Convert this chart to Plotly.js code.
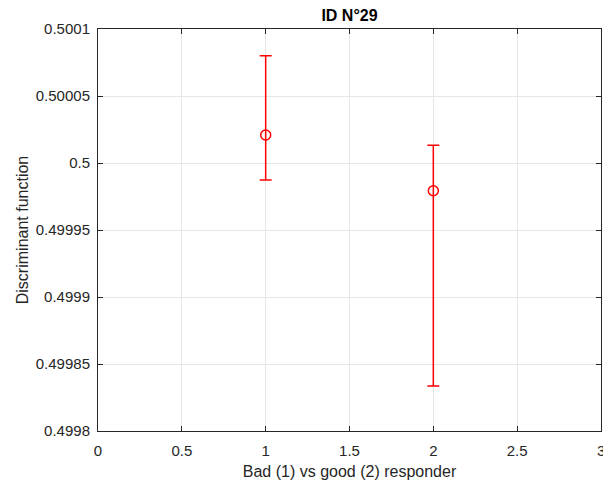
<!DOCTYPE html>
<html>
<head>
<meta charset="utf-8">
<script src="https://cdn.plot.ly/plotly-3.0.1.min.js"></script>
<style>html,body{margin:0;padding:0;background:#fff;}#chart{width:603px;height:483px;}</style>
</head>
<body>
<div id="chart"></div>
<script>
const responder = [1, 2];
const meanValue = [0.5000209, 0.4999793];
const errUpper = [0.0000592, 0.0000339];
const errLower = [0.0000336, 0.0001457];
const yTickVals = [0.4998, 0.49985, 0.4999, 0.49995, 0.5, 0.50005, 0.5001];
const yTickText = ['0.4998', '0.49985', '0.4999', '0.49995', '0.5', '0.50005', '0.5001'];
const xTickVals = [0, 0.5, 1, 1.5, 2, 2.5, 3];
const xTickText = ['0', '0.5', '1', '1.5', '2', '2.5', '3'];

const FONT = 'Liberation Sans, Arial, sans-serif';

const trace = {
  x: responder,
  y: meanValue,
  type: 'scatter',
  mode: 'markers',
  marker: {symbol: 'circle-open', size: 10, color: '#ff0000', line: {width: 1.5, color: '#ff0000'}},
  error_y: {type: 'data', symmetric: false, array: errUpper, arrayminus: errLower,
            color: '#ff0000', thickness: 1.5, width: 6},
  hoverinfo: 'none'
};

const axisCommon = {
  showline: true, linecolor: '#262626', linewidth: 1, mirror: 'ticks',
  ticks: 'inside', ticklen: 5, tickcolor: '#262626', tickwidth: 1,
  showgrid: true, gridcolor: '#e6e6e6', gridwidth: 1, zeroline: false,
  tickfont: {family: FONT, size: 15, color: '#262626'}
};

const layout = {
  width: 603, height: 483,
  margin: {l: 98, r: 2, t: 29, b: 52},
  paper_bgcolor: '#ffffff', plot_bgcolor: '#ffffff',
  showlegend: false,
  title: {text: '<b>ID N°29</b>', xref: 'paper', x: 0.5, xanchor: 'center',
          yref: 'container', y: 0.969, yanchor: 'middle',
          font: {family: FONT, size: 16, color: '#000000'}},
  xaxis: Object.assign({}, axisCommon, {
    range: [0, 3], tickmode: 'array', tickvals: xTickVals, ticktext: xTickText,
    ticklabelstandoff: 6,
    title: {text: 'Bad (1) vs good (2) responder', standoff: 7,
            font: {family: FONT, size: 16, color: '#262626'}}
  }),
  yaxis: Object.assign({}, axisCommon, {
    range: [0.4998, 0.5001], tickmode: 'array', tickvals: yTickVals, ticktext: yTickText,
    ticklabelstandoff: 4,
    title: {text: 'Discriminant function', standoff: 3,
            font: {family: FONT, size: 16, color: '#262626'}}
  }),
  annotations: [{
    x: xTickVals[xTickVals.length - 1], xref: 'x', y: 0, yref: 'paper',
    text: xTickText[xTickText.length - 1], showarrow: false,
    xanchor: 'center', yanchor: 'top', yshift: -9,
    font: {family: FONT, size: 15, color: '#262626'}
  }]
};

Plotly.newPlot('chart', [trace], layout, {displayModeBar: false, staticPlot: true});
</script>
</body>
</html>
